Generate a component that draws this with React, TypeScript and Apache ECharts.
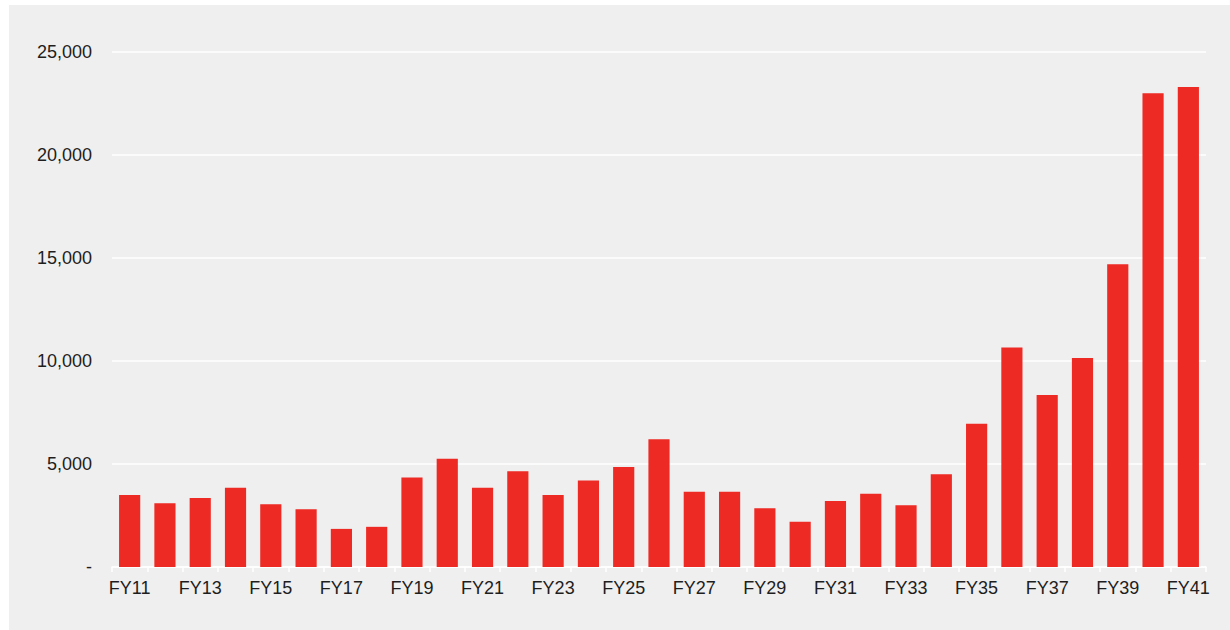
import React, { useEffect, useRef } from "react";
import * as echarts from "echarts";

// Fiscal years FY11 – FY41
const categories: string[] = [
  "FY11", "FY12", "FY13", "FY14", "FY15", "FY16", "FY17", "FY18", "FY19", "FY20",
  "FY21", "FY22", "FY23", "FY24", "FY25", "FY26", "FY27", "FY28", "FY29", "FY30",
  "FY31", "FY32", "FY33", "FY34", "FY35", "FY36", "FY37", "FY38", "FY39", "FY40",
  "FY41",
];

const values: number[] = [
  3500, 3100, 3350, 3850, 3050, 2800, 1850, 1950, 4350, 5250,
  3850, 4650, 3500, 4200, 4850, 6200, 3650, 3650, 2850, 2200,
  3200, 3550, 3000, 4500, 6950, 10650, 8350, 10150, 14700, 23000,
  23300,
];

const yMin = 0;
const yMax = 25000;
const yStep = 5000;

const FONT = "'Liberation Sans', Arial, sans-serif";

export default function App() {
  const ref = useRef<HTMLDivElement>(null);

  useEffect(() => {
    if (!ref.current) return;
    const chart = echarts.init(ref.current, undefined, { renderer: "svg" });
    chart.setOption({
      animation: false,
      backgroundColor: "#efefef",
      grid: { left: 103, right: 24, top: 47, bottom: 63, containLabel: false },
      xAxis: {
        type: "category",
        data: categories,
        boundaryGap: true,
        axisLine: { show: true, lineStyle: { color: "#ffffff", width: 1.5 } },
        axisTick: {
          show: true,
          interval: 0,
          length: 5,
          lineStyle: { color: "#ffffff", width: 1.5 },
        },
        axisLabel: {
          interval: 1,
          margin: 12,
          color: "#1e1e1e",
          fontFamily: FONT,
          fontSize: 18,
        },
        splitLine: { show: false },
      },
      yAxis: {
        type: "value",
        min: yMin,
        max: yMax,
        interval: yStep,
        axisLine: { show: false },
        axisTick: { show: false },
        axisLabel: {
          margin: 20,
          color: "#1e1e1e",
          fontFamily: FONT,
          fontSize: 18,
          formatter: (v: number) => (v === 0 ? "-" : v.toLocaleString("en-US")),
        },
        splitLine: { show: true, lineStyle: { color: "#ffffff", width: 1.5 } },
      },
      series: [
        {
          type: "bar",
          data: values,
          barWidth: "60%",
          itemStyle: { color: "#ee2a24" },
        },
      ],
    });
    return () => chart.dispose();
  }, []);

  return (
    <div
      ref={ref}
      style={{
        position: "absolute",
        left: 9,
        top: 5,
        width: 1221,
        height: 625,
      }}
    />
  );
}
